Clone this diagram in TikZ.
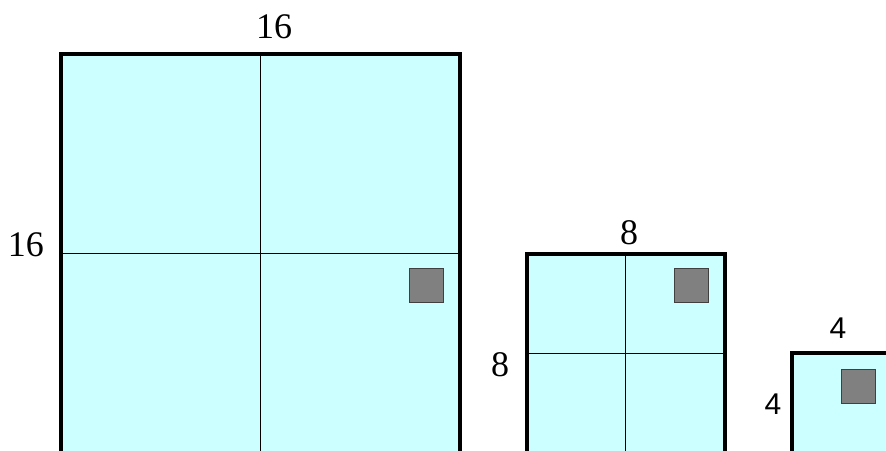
\documentclass[tikz,border=0pt]{standalone}
\usepackage{fontspec}
\setmainfont{Liberation Serif}
\newfontfamily\arialfont{Liberation Sans}
\definecolor{cellfill}{HTML}{CCFFFF}
\definecolor{blockgrey}{HTML}{808080}
\begin{document}
\begin{tikzpicture}[x=1pt,y=1pt,
  frame/.style={line width=4pt,fill=cellfill},
  divider/.style={line width=0.8pt},
  block/.style={fill=blockgrey,draw=black!75,line width=1pt},
  lbl/.style={font=\fontsize{36}{38}\selectfont,inner sep=0pt},
  lbls/.style={font=\arialfont\fontsize{30}{32}\selectfont,inner sep=0pt}]
\useasboundingbox (0,0) rectangle (886,450);
\begin{scope}
\clip (0,0) rectangle (886,450);
% big
\draw[frame] (61,-10) -- (61,396) -- (460,396) -- (460,-10);
\draw[divider] (260,-10) -- (260,396);
\draw[divider] (61,197) -- (460,197);
\draw[block] (409,147) rectangle (443,181);
% medium
\draw[frame] (527,-10) -- (527,196) -- (725,196) -- (725,-10);
\draw[divider] (625,-10) -- (625,196);
\draw[divider] (527,97) -- (725,97);
\draw[block] (674,147) rectangle (708,181);
% small
\draw[frame] (792,-10) -- (792,97) -- (900,97) -- (900,-10);
\draw[block] (841,47) rectangle (875,81);
\end{scope}
\node[lbl] (t16) at (274,423) {16};
\node[lbl] (l16) at (26,205) {16};
\node[lbl] (t8) at (629,217) {8};
\node[lbl] (l8) at (500,85) {8};
\node[lbls] (t4) at (838,122) {4};
\node[lbls] (l4) at (773,46) {4};
\end{tikzpicture}
\end{document}
